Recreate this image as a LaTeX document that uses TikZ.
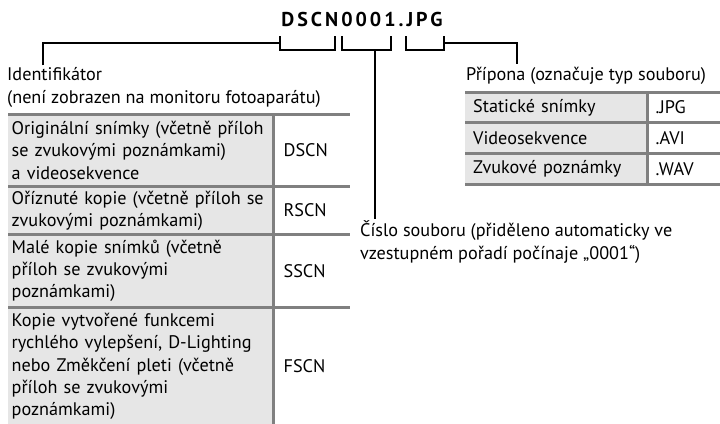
\documentclass[tikz,border=0pt]{standalone}
\usepackage{fontspec}
\setmainfont{PT Sans}
\usepackage{tikz}
\usetikzlibrary{positioning, calc}
\definecolor{cellgray}{RGB}{230,230,230}
\definecolor{rulegray}{RGB}{128,128,128}
\newcommand{\txtfont}{\fontsize{18.2}{22.3}\selectfont}
\tikzset{
  txtlbl/.style={inner sep=0pt, align=left, font=\txtfont, anchor=base west},
  namecell/.style={rectangle, fill=cellgray, inner xsep=3.5pt, inner ysep=0pt,
    text width=258pt, align=left, font=\txtfont},
  codecell/.style={rectangle, fill=white, inner xsep=10pt, inner ysep=0pt,
    text width=56pt, align=left, font=\txtfont},
  extname/.style={rectangle, fill=cellgray, inner xsep=8pt, inner ysep=0pt,
    text width=166pt, align=left, font=\txtfont, minimum height=30.3pt},
  extcode/.style={rectangle, fill=white, inner xsep=8pt, inner ysep=0pt,
    text width=57pt, align=left, font=\txtfont, minimum height=30.3pt},
  lead/.style={line width=1.8pt, color=black},
  rule/.style={line width=3pt, color=rulegray}
}
\newcommand{\brkt}[2]{\draw[lead] (#1,36) |- (#2,50) -- (#2,36);}

\begin{document}
\begin{tikzpicture}[x=1pt, y=-1pt, node distance=0pt]
  \useasboundingbox (0,0) rectangle (720,423);

  \node[font=\fontsize{20}{24}\selectfont\bfseries\addfontfeature{LetterSpace=15}] (fname) at (362,19) {DSCN0001.JPG};

  \brkt{280}{335}
  \brkt{342}{391}
  \brkt{406}{444}
  \coordinate (dscn) at (280,43);
  \coordinate (numb) at (375,50);
  \coordinate (jpg) at (444,43);

  \node[txtlbl] (idlbl) at (7,103) {Identifikátor\\(není zobrazen na monitoru fotoaparátu)};
  \node[txtlbl] (extlbl) at (466,80) {Přípona (označuje typ souboru)};
  \node[txtlbl] (numlbl) at (360,259) {Číslo souboru (přiděleno automaticky ve\\vzestupném pořadí počínaje „0001“)};

  \draw[lead] ([xshift=36pt, yshift=2pt]idlbl.north west) |- (dscn);
  \draw[lead] (numb) -- ([yshift=2pt]numb |- numlbl.north);
  \draw[lead] (jpg) -| ([xshift=51pt, yshift=2pt]extlbl.north west);

  \node[namecell, minimum height=72pt, anchor=north west] (r1) at (8,114) {Originální snímky (včetně příloh\\se zvukovými poznámkami)\\a videosekvence};
  \node[namecell, minimum height=48pt, below=of r1] (r2) {Oříznuté kopie (včetně příloh se\\zvukovými poznámkami)};
  \node[namecell, minimum height=72pt, below=of r2] (r3) {Malé kopie snímků (včetně\\příloh se zvukovými\\poznámkami)};
  \node[namecell, minimum height=118pt, below=of r3] (r4) {Kopie vytvořené funkcemi\\rychlého vylepšení, D-Lighting\\nebo Změkčení pleti (včetně\\příloh se zvukovými\\poznámkami)};
  \node[codecell, minimum height=72pt, right=of r1] (c1) {DSCN};
  \node[codecell, minimum height=48pt, right=of r2] (c2) {RSCN};
  \node[codecell, minimum height=72pt, right=of r3] (c3) {SSCN};
  \node[codecell, minimum height=118pt, right=of r4] (c4) {FSCN};
  \foreach \i in {1,2,3,4} {
    \draw[rule] (r\i.north west) -- (c\i.north east);
  }
  \draw[rule] (c1.north west) -- (c4.south west);

  \node[extname, anchor=north west] (e1) at (465,92) {Statické snímky};
  \node[extname, below=of e1] (e2) {Videosekvence};
  \node[extname, below=of e2] (e3) {Zvukové poznámky};
  \node[extcode, right=of e1] (x1) {.JPG};
  \node[extcode, right=of e2] (x2) {.AVI};
  \node[extcode, right=of e3] (x3) {.WAV};
  \foreach \i in {1,2,3} {
    \draw[rule] (e\i.north west) -- (x\i.north east);
  }
  \draw[rule] (e3.south west) -- (x3.south east);
  \draw[rule] (x1.north west) -- (x3.south west);
\end{tikzpicture}
\end{document}
